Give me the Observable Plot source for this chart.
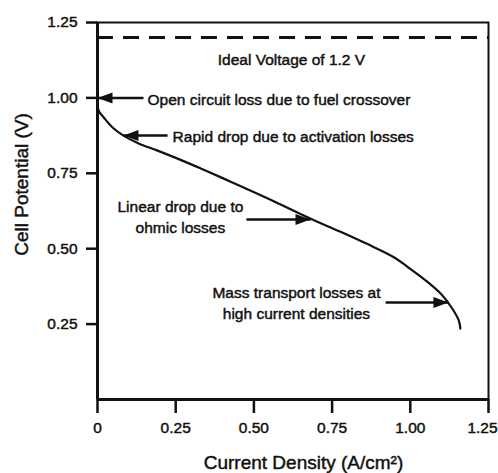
<!DOCTYPE html>
<html><head><meta charset="utf-8">
<script src="https://cdn.jsdelivr.net/npm/d3@7"></script>
<script src="https://cdn.jsdelivr.net/npm/@observablehq/plot@0.6"></script>
<style>
body{margin:0;background:#fff}
svg{display:block}
svg text{stroke:#111;stroke-width:0.45px}
</style>
</head><body><div id="chart"></div>
<script>
// Polarization curve
const currentDensity = [0, 0.005, 0.02, 0.05, 0.083, 0.13, 0.19, 0.26, 0.33, 0.40, 0.467, 0.55, 0.68, 0.777, 0.882, 0.95, 0.991, 1.055, 1.10, 1.135, 1.155, 1.16];
const cellPotential  = [0.975, 0.955, 0.935, 0.90, 0.875, 0.85, 0.826, 0.797, 0.766, 0.734, 0.703, 0.664, 0.60, 0.556, 0.506, 0.47, 0.44, 0.39, 0.348, 0.30, 0.262, 0.235];

const xTicks = [0, 0.25, 0.5, 0.75, 1.0, 1.25];
const yTicks = [0.25, 0.5, 0.75, 1.0, 1.25];
const idealVoltage = 1.2;

// Annotations
const labelText = ["Ideal Voltage of 1.2 V", "Open circuit loss due to fuel crossover", "Rapid drop due to activation losses", "Linear drop due to\nohmic losses", "Mass transport losses at\nhigh current densities"];
const labelX = [0.62, 0.16, 0.24, 0.265, 0.636];
const labelY = [1.131, 1.0, 0.875, 0.61, 0.325];
const labelAnchor = ["middle", "start", "start", "middle", "middle"];

const arrowX1 = [0.147, 0.224, 0.476, 0.921];
const arrowX2 = [0, 0.083, 0.681, 1.122];
const arrowY  = [1.0, 0.875, 0.597, 0.322];

const curve = currentDensity.map((x, i) => ({x, y: cellPotential[i]}));
const labels = labelText.map((t, i) => ({t, x: labelX[i], y: labelY[i], a: labelAnchor[i]}));
const arrows = arrowX1.map((x1, i) => ({x1, x2: arrowX2[i], y: arrowY[i]}));

// filled arrowhead with its tip at the origin, pointing left
const arrowHead = {draw(ctx) { ctx.moveTo(0, 0); ctx.lineTo(15, -5.5); ctx.lineTo(15, 5.5); ctx.closePath(); }};

const font = "'Liberation Sans', Arial, Helvetica, sans-serif";
const fmt = d => d === 0 ? "0" : d3.format(".2f")(d);
const lastX = xTicks[xTicks.length - 1];

const chart = Plot.plot({
  width: 498, height: 473,
  marginLeft: 97, marginRight: 10, marginTop: 22, marginBottom: 74,
  style: {fontFamily: font, background: "#fff", color: "#111"},
  x: {domain: [0, 1.25]},
  y: {domain: [0, 1.25]},
  marks: [
    Plot.frame({strokeWidth: 2}),
    Plot.ruleY([idealVoltage], {strokeWidth: 3, strokeDasharray: "16,10"}),
    Plot.axisX({ticks: xTicks, tickSize: 14, tickPadding: 8, strokeWidth: 2.5, fontSize: 15.5, tickFormat: d => d === lastX ? "" : fmt(d), label: null}),
    Plot.axisX({ticks: [lastX], tickSize: 0, tickPadding: 22, fontSize: 15.5, tickFormat: fmt, dx: -6, label: null}),
    Plot.axisY({ticks: yTicks, tickSize: 11, tickPadding: 9, strokeWidth: 2.5, fontSize: 15.5, tickFormat: fmt, label: null}),
    Plot.ruleY([0], {strokeWidth: 3}),
    Plot.ruleX([0], {strokeWidth: 3}),
    Plot.line(curve, {x: "x", y: "y", curve: "catmull-rom", strokeWidth: 2.2}),
    Plot.link(arrows, {x1: "x1", x2: "x2", y1: "y", y2: "y", strokeWidth: 2.5}),
    Plot.dot(arrows, {x: "x2", y: "y", symbol: arrowHead, fill: "#111", stroke: "none", rotate: d => d.x2 < d.x1 ? 0 : 180}),
    Plot.text(labels, {x: "x", y: "y", text: "t", textAnchor: "middle", fontSize: 15.5, lineHeight: 1.35, filter: d => d.a === "middle"}),
    Plot.text(labels, {x: "x", y: "y", text: "t", textAnchor: "start", fontSize: 15.5, lineHeight: 1.35, filter: d => d.a === "start"}),
    Plot.text(["Current Density (A/cm²)"], {frameAnchor: "bottom", textAnchor: "middle", lineAnchor: "middle", dx: 10.5, dy: 63, fontSize: 19}),
    Plot.text(["Cell Potential (V)"], {frameAnchor: "left", textAnchor: "middle", lineAnchor: "middle", dx: -76, dy: -26.5, rotate: -90, fontSize: 19})
  ]
});
document.getElementById("chart").append(chart);
</script>
</body></html>
